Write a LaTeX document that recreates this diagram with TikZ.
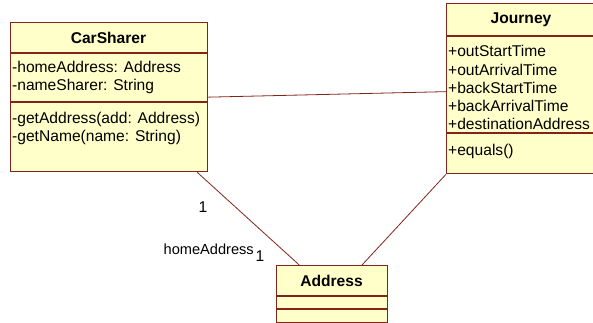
\documentclass[tikz,border=0pt]{standalone}
\usepackage{fontspec}
\setmainfont{Liberation Sans}
\usetikzlibrary{calc}
\definecolor{umlfill}{RGB}{255,255,202}
\definecolor{umlline}{RGB}{128,36,28}
\begin{document}
\begin{tikzpicture}[x=1pt,y=-1pt,
  box/.style={draw=umlline, fill=umlfill, line width=1.3pt, rectangle, anchor=north west, inner sep=0pt},
  div/.style={draw=umlline, line width=1.3pt},
  txt/.style={font=\fontsize{15.6}{19}\selectfont, inner sep=0pt, anchor=west},
  ttl/.style={font=\fontsize{15.6}{19}\selectfont\bfseries, inner sep=0pt},
  conn/.style={draw=umlline, line width=0.8pt}]
\useasboundingbox (0,0) rectangle (593,323);
% CarSharer
\node[box, minimum width=197pt, minimum height=149pt] (car) at (10,22) {};
\draw[div] (10,53) -- (207,53);
\draw[div] (10,102) -- (207,102);
\node[ttl] (cart) at (108.5,37.5) {CarSharer};
\node[txt] (ca1) at (12,67) {-homeAddress: Address};
\node[txt] (ca2) at (12,86) {-nameSharer: String};
\node[txt] (cm1) at (12,119) {-getAddress(add: Address)};
\node[txt] (cm2) at (12,137) {-getName(name: String)};
% Journey
\node[box, minimum width=154pt, minimum height=170pt] (journey) at (446,3) {};
\draw[div] (446,36) -- (600,36);
\draw[div] (446,133) -- (600,133);
\node[ttl] (jt) at (521,20) {Journey};
\node[txt] (ja1) at (448,51) {+outStartTime};
\node[txt] (ja2) at (448,69.5) {+outArrivalTime};
\node[txt] (ja3) at (448,88) {+backStartTime};
\node[txt] (ja4) at (448,106) {+backArrivalTime};
\node[txt] (ja5) at (448,124) {+destinationAddress};
\node[txt] (jm1) at (448,151) {+equals()};
% Address
\node[box, minimum width=111pt, minimum height=57pt] (addr) at (276,265) {};
\draw[div] (276,296) -- (387,296);
\draw[div] (276,309) -- (387,309);
\node[ttl] (at) at (331.5,280.5) {Address};
% connectors
\draw[conn] (car.east) -- ([yshift=-3pt]journey.west);
\draw[conn] ($(car.south west)!0.944!(car.south east)$) -- ($(addr.north west)!0.207!(addr.north east)$);
\draw[conn] ($(addr.north west)!0.766!(addr.north east)$) -- (journey.south west);
% labels
\node[txt, anchor=center] (m1) at (203,207) {1};
\node[txt, anchor=east, font=\fontsize{14.6}{18}\selectfont] (role) at (254,249) {homeAddress};
\node[txt, anchor=center] (m2) at (260,256) {1};
\end{tikzpicture}
\end{document}
